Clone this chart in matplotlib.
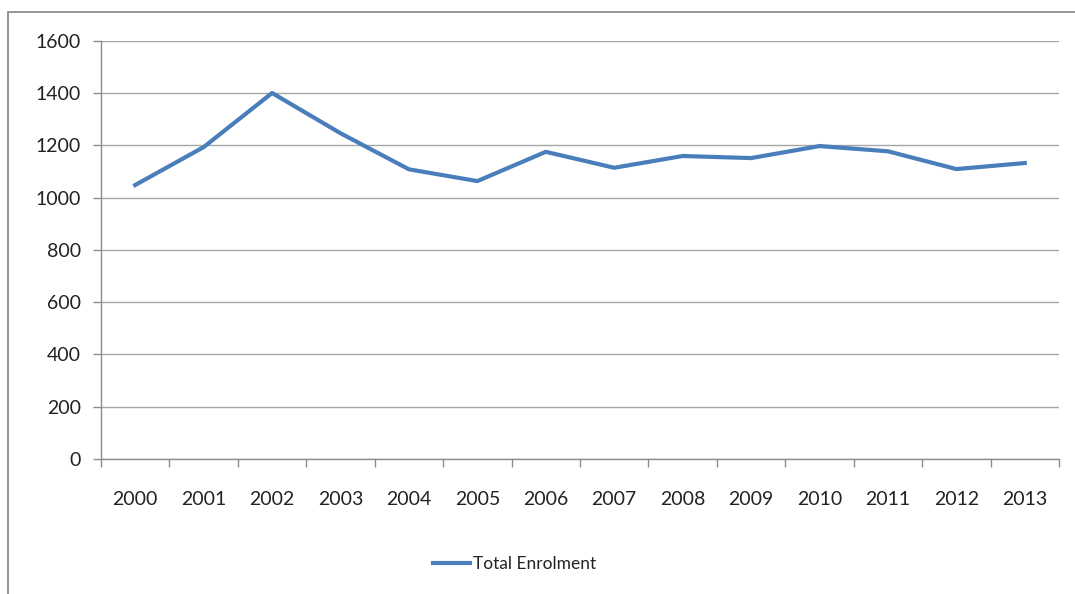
import matplotlib.pyplot as plt
from matplotlib.patches import Rectangle

years = ["2000", "2001", "2002", "2003", "2004", "2005", "2006",
         "2007", "2008", "2009", "2010", "2011", "2012", "2013"]
enrolment = [1048, 1193, 1400, 1246, 1108, 1063, 1175,
             1114, 1159, 1151, 1197, 1177, 1109, 1132]
y_ticks = [0, 200, 400, 600, 800, 1000, 1200, 1400, 1600]

plt.rcParams['font.family'] = ['Lato', 'DejaVu Sans']

fig = plt.figure(figsize=(10.75, 5.94), dpi=100)

# chart frame
fig.patches.append(Rectangle((8 / 1075, -0.05), 1.2, 1 - 12 / 594 + 0.05,
                             transform=fig.transFigure, fill=False,
                             edgecolor='#8c8c8c', linewidth=1.3))

ax = fig.add_axes([101 / 1075, 135 / 594, 958 / 1075, 418.3 / 594])

x = list(range(len(years)))
ax.plot(x, enrolment, color='#4a7ebb', linewidth=3.0,
        solid_joinstyle='round', label='Total Enrolment')

ax.set_xlim(-0.5, len(years) - 0.5)
ax.set_ylim(0, 1600)
ax.set_yticks(y_ticks)
ax.grid(axis='y', color='#a6a6a6', linewidth=1.0)
ax.set_axisbelow(True)

ax.set_xticks(x)
ax.set_xticklabels(years)
ax.set_xticks([i - 0.5 for i in range(len(years) + 1)], minor=True)
ax.tick_params(axis='x', which='major', length=0, pad=23, labelsize=14,
               colors='#222222')
ax.tick_params(axis='x', which='minor', length=5.5, width=1.0, color='#8c8c8c')
ax.tick_params(axis='y', length=5.5, width=1.0, color='#8c8c8c', pad=9,
               labelsize=14, labelcolor='#222222')

for side in ['top', 'right']:
    ax.spines[side].set_visible(False)
for side in ['left', 'bottom']:
    ax.spines[side].set_color('#8c8c8c')
    ax.spines[side].set_linewidth(1.0)

fig.legend(loc='center', bbox_to_anchor=(515 / 1075, 30 / 594), frameon=False,
           fontsize=12.5, labelcolor='#222222', handlelength=2.1,
           handletextpad=0.2)

fig.savefig('out.png', dpi=100)
